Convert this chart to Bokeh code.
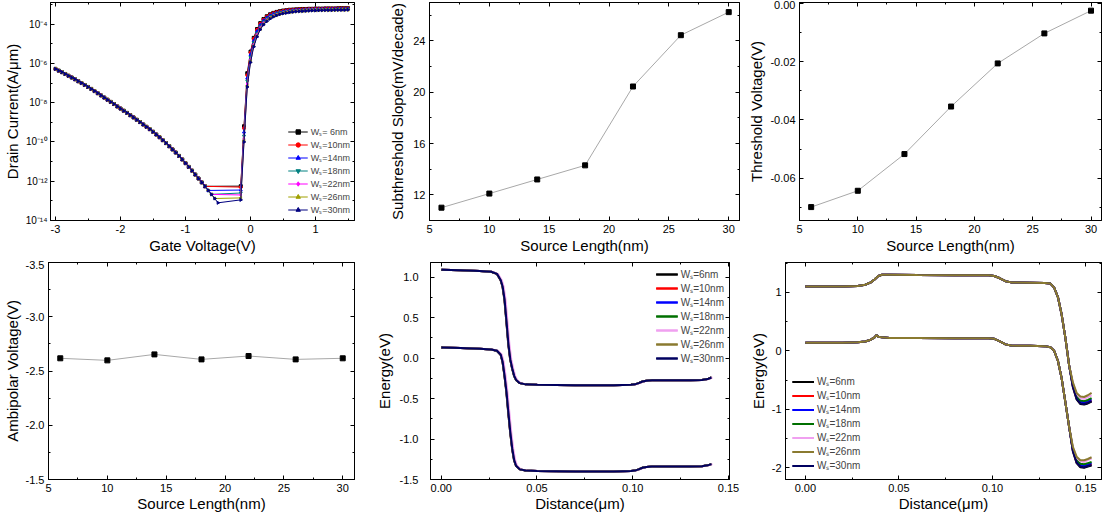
import math
from bokeh.plotting import figure
from bokeh.layouts import row, column
from bokeh.models import (Range1d, FixedTicker, LinearAxis, PrintfTickFormatter,
                          CustomJSTickFormatter)
from bokeh.embed import file_html
from bokeh.resources import INLINE

FONT = "Liberation Sans"

# ------------------------------------------------------------------ data
source_len = [6, 10, 14, 18, 22, 26, 30]
ss_mv_dec = [11.0, 12.1, 13.2, 14.3, 20.45, 24.45, 26.25]
vth_v = [-0.0699, -0.0643, -0.0517, -0.0354, -0.0206, -0.0103, -0.0025]
vamb_v = [-2.617, -2.598, -2.653, -2.607, -2.638, -2.607, -2.617]

labels_p1 = ["Wₛ= 6nm", "Wₛ=10nm", "Wₛ=14nm", "Wₛ=18nm", "Wₛ=22nm", "Wₛ=26nm", "Wₛ=30nm"]
labels_band = ["Wₛ=6nm", "Wₛ=10nm", "Wₛ=14nm", "Wₛ=18nm", "Wₛ=22nm", "Wₛ=26nm", "Wₛ=30nm"]
colors_p1 = ["#000000", "#ff0000", "#0000ff", "#008080", "#ff00ff", "#a0a000", "#000080"]
colors_band = ["#000000", "#ff0000", "#0000ff", "#007000", "#f0a0f0", "#8a7a30", "#000060"]

# transfer characteristics (log10 of drain current, A/um)
vg_amb = [-3.00, -2.95, -2.90, -2.85, -2.80, -2.75, -2.70, -2.65, -2.60, -2.55, -2.50,
          -2.45, -2.40, -2.35, -2.30, -2.25, -2.20, -2.15, -2.10, -2.05, -2.00,
          -1.95, -1.90, -1.85, -1.80, -1.75, -1.70, -1.65, -1.60, -1.55, -1.50,
          -1.45, -1.40, -1.35, -1.30, -1.25, -1.20, -1.15, -1.10, -1.05, -1.00,
          -0.95, -0.90, -0.85, -0.80, -0.75, -0.70, -0.65, -0.60, -0.55, -0.50]
logid_amb = [-6.28, -6.37, -6.45, -6.54, -6.63, -6.72, -6.81, -6.91, -7.00, -7.10, -7.20,
             -7.30, -7.41, -7.52, -7.63, -7.74, -7.85, -7.96, -8.07, -8.19, -8.30,
             -8.41, -8.52, -8.64, -8.75, -8.87, -8.99, -9.11, -9.23, -9.35, -9.48,
             -9.62, -9.76, -9.91, -10.06, -10.22, -10.38, -10.54, -10.71, -10.89, -11.08,
             -11.27, -11.46, -11.66, -11.86, -12.06, -12.26, -12.47, -12.67, -12.88, -13.10]
amb_last_vg = [-0.70, -0.70, -0.65, -0.60, -0.60, -0.55, -0.50]
floor_vg = -0.15
floor_logid = [-12.25, -12.30, -12.45, -12.60, -12.70, -12.85, -12.95]
vg_on = [-0.10, -0.05, 0.00, 0.05, 0.10, 0.15, 0.20, 0.25, 0.30, 0.35, 0.40,
         0.45, 0.50, 0.55, 0.60, 0.65, 0.70, 0.75, 0.80, 0.85, 0.90, 0.95,
         1.00, 1.05, 1.10, 1.15, 1.20, 1.25, 1.30, 1.35, 1.40, 1.45, 1.50]
logid_on_06 = [-9.2, -6.5, -5.4, -4.7, -4.25, -3.95, -3.74, -3.60, -3.50, -3.43, -3.38,
               -3.34, -3.31, -3.29, -3.27, -3.26, -3.25, -3.24, -3.23, -3.23, -3.22, -3.22,
               -3.21, -3.21, -3.21, -3.20, -3.20, -3.20, -3.20, -3.19, -3.19, -3.19, -3.19]
logid_on_10 = [-9.3, -6.6, -5.45, -4.75, -4.29, -3.98, -3.77, -3.62, -3.52, -3.45, -3.40,
               -3.36, -3.33, -3.30, -3.28, -3.27, -3.26, -3.25, -3.24, -3.24, -3.23, -3.23,
               -3.22, -3.22, -3.22, -3.21, -3.21, -3.21, -3.21, -3.20, -3.20, -3.20, -3.20]
logid_on_14 = [-9.5, -6.75, -5.55, -4.85, -4.37, -4.05, -3.82, -3.67, -3.56, -3.48, -3.43,
               -3.39, -3.36, -3.33, -3.31, -3.30, -3.28, -3.27, -3.27, -3.26, -3.25, -3.25,
               -3.24, -3.24, -3.24, -3.23, -3.23, -3.23, -3.23, -3.22, -3.22, -3.22, -3.22]
logid_on_18 = [-9.7, -6.9, -5.7, -4.95, -4.47, -4.13, -3.89, -3.73, -3.61, -3.53, -3.47,
               -3.42, -3.39, -3.36, -3.34, -3.32, -3.31, -3.30, -3.29, -3.28, -3.27, -3.27,
               -3.26, -3.26, -3.26, -3.25, -3.25, -3.25, -3.25, -3.24, -3.24, -3.24, -3.24]
logid_on_22 = [-9.85, -7.05, -5.82, -5.05, -4.55, -4.20, -3.95, -3.79, -3.67, -3.58, -3.51,
               -3.46, -3.42, -3.39, -3.37, -3.35, -3.33, -3.32, -3.31, -3.30, -3.29, -3.29,
               -3.28, -3.28, -3.28, -3.27, -3.27, -3.27, -3.26, -3.26, -3.26, -3.26, -3.26]
logid_on_26 = [-9.95, -7.15, -5.90, -5.10, -4.60, -4.25, -4.00, -3.83, -3.70, -3.61, -3.54,
               -3.48, -3.44, -3.41, -3.39, -3.37, -3.35, -3.34, -3.33, -3.32, -3.31, -3.30,
               -3.30, -3.29, -3.29, -3.28, -3.28, -3.28, -3.28, -3.27, -3.27, -3.27, -3.27]
logid_on_30 = [-10.0, -7.2, -5.95, -5.15, -4.65, -4.28, -4.03, -3.86, -3.73, -3.63, -3.56,
               -3.50, -3.46, -3.43, -3.40, -3.38, -3.36, -3.35, -3.34, -3.33, -3.32, -3.31,
               -3.31, -3.30, -3.30, -3.29, -3.29, -3.29, -3.28, -3.28, -3.28, -3.28, -3.27]
logid_on = [logid_on_06, logid_on_10, logid_on_14, logid_on_18, logid_on_22, logid_on_26, logid_on_30]

# band diagram, panel 5 (eV vs um)
p5_x = [0.000, 0.010, 0.020, 0.026, 0.029, 0.031, 0.032, 0.033, 0.034, 0.035, 0.036,
        0.037, 0.038, 0.039, 0.041, 0.044, 0.050, 0.070, 0.090, 0.099, 0.101, 0.103,
        0.105, 0.107, 0.110, 0.120, 0.130, 0.136, 0.139, 0.141]
p5_ec = [1.09, 1.085, 1.075, 1.065, 1.04, 0.96, 0.88, 0.72, 0.45, 0.17, -0.02,
         -0.13, -0.22, -0.27, -0.31, -0.325, -0.33, -0.335, -0.335, -0.33, -0.325, -0.31,
         -0.29, -0.28, -0.275, -0.275, -0.275, -0.27, -0.26, -0.24]
p5_ev = [0.13, 0.125, 0.115, 0.105, 0.09, 0.04, -0.05, -0.22, -0.42, -0.68, -0.92,
         -1.12, -1.26, -1.33, -1.375, -1.39, -1.395, -1.40, -1.40, -1.395, -1.39, -1.375,
         -1.355, -1.345, -1.34, -1.34, -1.34, -1.335, -1.325, -1.31]
p5_dx = [0.0, 0.0001, 0.0001, 0.0002, 0.0006, 0.0, 0.0001]

# band diagram, panel 6
p6_x = [0.000, 0.020, 0.028, 0.032, 0.035, 0.037, 0.038, 0.039, 0.041, 0.045, 0.060,
        0.080, 0.098, 0.101, 0.104, 0.107, 0.110, 0.120, 0.128, 0.131, 0.133, 0.135,
        0.137, 0.139, 0.141]
p6_ec = [1.10, 1.10, 1.11, 1.13, 1.17, 1.22, 1.25, 1.28, 1.30, 1.30, 1.295,
         1.29, 1.29, 1.28, 1.24, 1.19, 1.17, 1.165, 1.16, 1.15, 1.08, 0.92,
         0.62, 0.22, -0.25]
p6_ev = [0.14, 0.14, 0.145, 0.16, 0.19, 0.23, 0.27, 0.24, 0.23, 0.22, 0.22,
         0.215, 0.215, 0.205, 0.16, 0.11, 0.09, 0.085, 0.08, 0.06, 0.0, -0.17,
         -0.47, -0.88, -1.30]
p6_tail_x = [0.143, 0.145, 0.147, 0.149, 0.151, 0.153]
p6_tail_ec = [[-0.62, -0.83, -0.91, -0.92, -0.90, -0.87],
              [-0.60, -0.81, -0.89, -0.90, -0.88, -0.85],
              [-0.59, -0.79, -0.87, -0.88, -0.86, -0.83],
              [-0.57, -0.77, -0.85, -0.86, -0.84, -0.81],
              [-0.55, -0.74, -0.81, -0.82, -0.79, -0.76],
              [-0.54, -0.72, -0.78, -0.79, -0.76, -0.72],
              [-0.61, -0.82, -0.90, -0.91, -0.89, -0.86]]
p6_tail_ev = [[-1.72, -1.92, -1.99, -2.00, -1.98, -1.96],
              [-1.70, -1.90, -1.97, -1.98, -1.96, -1.94],
              [-1.69, -1.88, -1.95, -1.96, -1.94, -1.92],
              [-1.67, -1.86, -1.93, -1.94, -1.92, -1.90],
              [-1.65, -1.83, -1.89, -1.90, -1.87, -1.84],
              [-1.64, -1.81, -1.87, -1.87, -1.85, -1.82],
              [-1.71, -1.91, -1.98, -1.99, -1.97, -1.95]]

# ------------------------------------------------------------------ helpers
def make_fig(w, h, bl, br, bt, bb, xr, yr, y_log=False):
    p = figure(width=w, height=h, x_range=Range1d(*xr), y_range=Range1d(*yr),
               y_axis_type="log" if y_log else "linear",
               output_backend="svg", toolbar_location=None,
               min_border_left=bl, min_border_right=br,
               min_border_top=bt, min_border_bottom=bb)
    p.xgrid.visible = False
    p.ygrid.visible = False
    p.outline_line_color = "black"
    p.outline_line_width = 1
    p.background_fill_color = "white"
    p.border_fill_color = "white"
    return p


def style_axis(ax, ticker, fmt, label, tick_standoff=4, label_standoff=2, tick_size="11px"):
    ax.ticker = ticker
    ax.formatter = fmt
    ax.axis_label = label
    ax.axis_label_text_font = FONT
    ax.axis_label_text_font_size = "15px"
    ax.axis_label_text_font_style = "normal"
    ax.axis_label_text_color = "black"
    ax.axis_label_standoff = label_standoff
    ax.major_label_text_font = FONT
    ax.major_label_text_font_size = tick_size
    ax.major_label_text_color = "black"
    ax.major_label_standoff = tick_standoff
    ax.major_tick_in = 4
    ax.major_tick_out = 0
    ax.minor_tick_in = 2
    ax.minor_tick_out = 0
    ax.axis_line_color = "black"
    ax.major_tick_line_color = "black"
    ax.minor_tick_line_color = "black"


def mirror(p, xt, yt):
    blank = CustomJSTickFormatter(code="return '';")
    for side, t in (("above", xt), ("right", yt)):
        ax = LinearAxis(ticker=t, formatter=blank, major_label_standoff=0,
                        major_tick_in=4, major_tick_out=0, minor_tick_in=2,
                        minor_tick_out=0, axis_line_color="black",
                        major_label_text_font_size="1px")
        p.add_layout(ax, side)


def style_legend(p, loc, size, lh, gw, margin):
    lg = p.legend[0]
    lg.location = loc
    lg.label_text_font = FONT
    lg.label_text_font_size = size
    lg.label_height = lh
    lg.glyph_height = lh
    lg.glyph_width = gw
    lg.spacing = 0
    lg.padding = 2
    lg.margin = margin
    lg.label_standoff = 3
    lg.background_fill_alpha = 0
    lg.border_line_alpha = 0


sup_js = """
const m = {'-':'\u207b','0':'\u2070','1':'\u00b9','2':'\u00b2','3':'\u00b3','4':'\u2074',
           '5':'\u2075','6':'\u2076','7':'\u2077','8':'\u2078','9':'\u2079'};
const e = Math.round(Math.log10(tick));
return '10' + String(e).split('').map(c => m[c]).join('');
"""

# ------------------------------------------------------------------ panel 1
p1 = make_fig(372, 260, 50, 18, 2, 40, (-3.077, 1.6), (1e-14, 10 ** -2.9), y_log=True)
xt1 = FixedTicker(ticks=[-3, -2, -1, 0, 1], minor_ticks=[-2.5, -1.5, -0.5, 0.5, 1.5])
yt1 = FixedTicker(ticks=[1e-14, 1e-12, 1e-10, 1e-8, 1e-6, 1e-4],
                  minor_ticks=[1e-13, 1e-11, 1e-9, 1e-7, 1e-5, 1e-3])
style_axis(p1.xaxis[0], xt1, PrintfTickFormatter(format="%d"), "Gate Voltage(V)", 4, 1)
style_axis(p1.yaxis[0], yt1, CustomJSTickFormatter(code=sup_js), "Drain Current(A/μm)", 3, 2, "10px")
mirror(p1, xt1, yt1)
markers = ["square", "circle", "triangle", "inverted_triangle", "diamond", "triangle", "triangle"]
angles = [0, 0, 0, 0, 0, math.pi / 2, -math.pi / 2]
for i in range(7):
    xs = [v for v in vg_amb if v <= amb_last_vg[i] + 1e-9]
    ys = logid_amb[:len(xs)]
    xs = xs + [floor_vg] + vg_on
    ys = ys + [floor_logid[i]] + logid_on[i]
    ids = [10 ** y for y in ys]
    p1.line(xs, ids, line_color=colors_p1[i], line_width=1, legend_label=labels_p1[i])
    p1.scatter(xs, ids, marker=markers[i], angle=angles[i], size=3,
               fill_color=colors_p1[i], line_color=colors_p1[i], legend_label=labels_p1[i])
style_legend(p1, "bottom_right", "9px", 11, 20, 2)

# ------------------------------------------------------------------ panel 2
p2 = make_fig(373, 260, 57, 6, 2, 40, (5, 30.9), (10, 27))
xt_sl = FixedTicker(ticks=[5, 10, 15, 20, 25, 30], minor_ticks=[7.5, 12.5, 17.5, 22.5, 27.5])
yt2 = FixedTicker(ticks=[12, 16, 20, 24], minor_ticks=[10, 14, 18, 22, 26])
style_axis(p2.xaxis[0], xt_sl, PrintfTickFormatter(format="%d"), "Source Length(nm)", 4, 1)
style_axis(p2.yaxis[0], yt2, PrintfTickFormatter(format="%d"), "Subthreshold Slope(mV/decade)", 4, 4)
mirror(p2, xt_sl, yt2)
p2.line(source_len, ss_mv_dec, line_color="#a8a8a8", line_width=1)
p2.scatter(source_len, ss_mv_dec, marker="square", size=5, color="black")

# ------------------------------------------------------------------ panel 3
p3 = make_fig(358, 260, 48, 2, 2, 40, (5, 30.9), (-0.0745, 0.0003))
yt3 = FixedTicker(ticks=[0.0, -0.02, -0.04, -0.06], minor_ticks=[-0.01, -0.03, -0.05, -0.07])
style_axis(p3.xaxis[0], xt_sl, PrintfTickFormatter(format="%d"), "Source Length(nm)", 4, 1)
style_axis(p3.yaxis[0], yt3, PrintfTickFormatter(format="%.2f"), "Threshold Voltage(V)", 4, 2)
mirror(p3, xt_sl, yt3)
p3.line(source_len, vth_v, line_color="#a8a8a8", line_width=1)
p3.scatter(source_len, vth_v, marker="square", size=5, color="black")

# ------------------------------------------------------------------ panel 4
p4 = make_fig(372, 256, 46, 18, 2, 37, (5, 31), (-1.5, -3.5))
yt4 = FixedTicker(ticks=[-3.5, -3.0, -2.5, -2.0, -1.5], minor_ticks=[-3.25, -2.75, -2.25, -1.75])
style_axis(p4.xaxis[0], xt_sl, PrintfTickFormatter(format="%d"), "Source Length(nm)", 4, 0)
style_axis(p4.yaxis[0], yt4, PrintfTickFormatter(format="%.1f"), "Ambipolar Voltage(V)", 4, 2)
mirror(p4, xt_sl, yt4)
p4.line(source_len, vamb_v, line_color="#a8a8a8", line_width=1)
p4.scatter(source_len, vamb_v, marker="square", size=5, color="black")

# ------------------------------------------------------------------ panel 5
p5 = make_fig(373, 256, 50, 16, 2, 37, (-0.0056, 0.1505), (-1.5, 1.18))
xt_d = FixedTicker(ticks=[0.0, 0.05, 0.10, 0.15], minor_ticks=[0.025, 0.075, 0.125])
yt5 = FixedTicker(ticks=[-1.5, -1.0, -0.5, 0.0, 0.5, 1.0],
                  minor_ticks=[-1.25, -0.75, -0.25, 0.25, 0.75])
style_axis(p5.xaxis[0], xt_d, PrintfTickFormatter(format="%.2f"), "Distance(μm)", 4, 0)
style_axis(p5.yaxis[0], yt5, PrintfTickFormatter(format="%.1f"), "Energy(eV)", 12, 4)
mirror(p5, xt_d, yt5)
for i in range(7):
    xs = [x + p5_dx[i] for x in p5_x]
    p5.line(xs, p5_ec, line_color=colors_band[i], line_width=2, legend_label=labels_band[i])
    p5.line(xs, p5_ev, line_color=colors_band[i], line_width=2, legend_label=labels_band[i])
style_legend(p5, "top_right", "10px", 12, 22, 3)

# ------------------------------------------------------------------ panel 6
p6 = make_fig(358, 256, 40, 2, 2, 37, (-0.0106, 0.1583), (-2.2, 1.51))
yt6 = FixedTicker(ticks=[-2, -1, 0, 1], minor_ticks=[-1.5, -0.5, 0.5, 1.5])
style_axis(p6.xaxis[0], xt_d, PrintfTickFormatter(format="%.2f"), "Distance(μm)", 4, 0)
style_axis(p6.yaxis[0], yt6, PrintfTickFormatter(format="%d"), "Energy(eV)", 4, 2)
mirror(p6, xt_d, yt6)
for i in [0, 1, 2, 3, 4, 6, 5]:
    xs = p6_x + p6_tail_x
    p6.line(xs, p6_ec + p6_tail_ec[i], line_color=colors_band[i], line_width=2,
            legend_label=labels_band[i])
    p6.line(xs, p6_ev + p6_tail_ev[i], line_color=colors_band[i], line_width=2,
            legend_label=labels_band[i])
style_legend(p6, "bottom_left", "10px", 11, 22, 5)
# keep legend order 6..30 nm
p6.legend[0].items = sorted(p6.legend[0].items,
                            key=lambda it: labels_band.index(it.label.value))

layout = column(row(p1, p2, p3), row(p4, p5, p6))
open("out.html", "w").write(file_html(layout, INLINE))
